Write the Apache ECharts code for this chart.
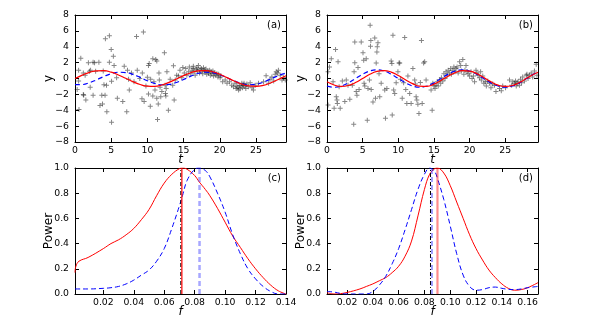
<!DOCTYPE html>
<html>
<head>
<meta charset="utf-8">
<script src="https://cdn.jsdelivr.net/npm/echarts@6/dist/echarts.min.js"></script>
<style>
  html, body { margin: 0; padding: 0; background: #fff; }
  #chart { width: 598px; height: 320px; }
</style>
</head>
<body>
<div id="chart"></div>
<script>
// ---- data ----

// (a) noisy samples and the two fitted sinusoids
const scatterA = [
  [0.3,-1.4],[0.5,-0.3],[0.5,1.05],[0.55,-3.9],[0.8,2.55],[1.15,0.7],[1.15,-2.0],[1.2,-2.1],[1.4,0.4],[1.5,-2.7],
  [1.85,2.0],[2.0,0.9],[2.1,-1.1],[2.15,1.05],[2.5,2.05],[2.5,-2.1],[2.7,2.0],[2.85,0.9],[3.3,2.05],[3.45,-3.4],
  [3.7,-2.1],[3.8,-3.2],[3.9,0.95],[4.0,-0.8],[4.15,-2.1],[4.2,5.0],[4.35,-0.85],[4.4,-4.2],[4.75,5.4],[4.75,2.05],
  [5.0,3.65],[5.05,-0.35],[5.05,-5.5],[5.3,2.8],[5.4,1.65],[5.75,0.1],[5.85,-2.5],[6.6,-2.9],[6.8,1.55],[7.15,-4.2],
  [7.25,1.05],[7.4,-0.1],[7.5,-1.45],[7.8,0.7],[8.15,-0.4],[8.5,5.3],[8.6,1.05],[8.95,0.0],[9.25,-2.55],[9.3,0.7],
  [9.45,5.85],[9.55,-2.9],[9.8,-0.95],[10.0,0.15],[10.15,1.65],[10.15,-1.95],[10.25,1.9],[10.4,-3.5],[10.45,-0.1],[10.75,2.5],
  [10.75,-2.2],[10.9,-0.4],[11.05,-1.45],[11.15,2.4],[11.3,2.2],[11.3,-2.5],[11.4,-5.15],[11.5,-3.2],[11.6,0.7],[11.65,-0.2],
  [11.75,-1.1],[11.85,-2.3],[12.0,-1.65],[12.35,3.25],[12.45,-0.85],[12.5,-1.9],[12.55,-2.2],[12.6,-1.25],[12.7,0.85],[12.9,-4.0],
  [13.15,-0.1],[13.5,-0.85],[13.6,1.6],[13.7,-2.7],[13.85,-0.2],[14.05,0.4],[14.3,0.3],[14.5,1.05],[14.75,0.1],[14.9,1.4],
  [15.1,0.7],[15.3,1.25],[15.45,0.4],[15.7,0.85],[15.8,1.45],[16.0,0.6],[16.15,1.05],[16.3,1.25],[16.35,1.55],[16.45,0.85],
  [16.6,0.4],[16.75,1.15],[16.85,1.35],[16.9,0.95],[17.05,1.65],[17.2,0.7],[17.3,1.15],[17.45,1.25],[17.55,0.95],[17.65,0.6],
  [17.75,1.35],[17.9,1.05],[18.0,0.85],[18.1,1.2],[18.2,0.55],[18.35,0.95],[18.45,0.7],[18.6,1.05],[18.7,0.4],[18.8,0.85],
  [18.9,0.6],[19.05,0.95],[19.15,0.3],[19.3,0.7],[19.45,0.4],[19.6,0.6],[19.75,0.2],[19.85,0.55],[20.05,0.1],[20.15,0.35],
  [20.4,-0.4],[20.75,-0.2],[21.0,-0.6],[21.35,-0.4],[21.65,-0.85],[21.9,-1.05],[22.1,-0.6],[22.25,-1.25],[22.35,-0.95],[22.5,-1.15],
  [22.6,-1.45],[22.75,-0.85],[22.8,-1.3],[22.95,-0.95],[23.05,-0.6],[23.15,-1.15],[23.3,-0.85],[23.35,-0.6],[23.5,-0.95],[23.6,-1.25],
  [23.75,-0.7],[23.95,-1.05],[24.2,-0.55],[24.45,-1.15],[24.65,-1.45],[24.9,-0.85],[25.35,-0.6],[26.05,-0.4],[26.4,0.35],[26.75,-0.6],
  [26.95,-0.1],[27.2,0.2],[27.45,-0.3],[27.65,0.55],[27.8,0.85],[28.0,0.7],[28.1,1.05],[28.35,0.4],[28.6,-0.2],[28.8,0.1],[29.05,-0.2]
];
const curveTA = [0,1,2,3,4,5,6,7,8,9,10,11,12,13,14,15,16,17,18,19,20,21,22,23,24,25,26,27,28,29,29.15];
const redA = [0,0.43,0.78,0.97,0.99,0.80,0.45,0.03,-0.40,-0.76,-0.96,-0.99,-0.82,-0.49,-0.07,0.36,0.73,0.95,1.0,0.85,0.53,0.11,-0.32,-0.70,-0.94,-0.99,-0.87,-0.56,-0.15,0.28,0.34];
const blueA = [-0.78,-0.76,-0.53,-0.16,0.26,0.60,0.79,0.75,0.52,0.14,-0.28,-0.62,-0.79,-0.74,-0.50,-0.12,0.30,0.63,0.79,0.74,0.48,0.10,-0.31,-0.64,-0.79,-0.73,-0.47,-0.08,0.33,0.66,0.70];

// (b)
const scatterB = [
  [0.15,0.85],[0.15,-3.35],[0.35,1.45],[0.6,2.5],[0.85,-0.4],[1.0,-3.75],[1.2,3.65],[1.3,-2.3],[1.4,-2.7],[1.45,-3.15],
  [1.55,2.1],[1.7,-1.05],[1.85,-3.75],[2.15,-0.3],[2.5,-2.9],[2.7,-0.2],[2.95,-0.85],[3.2,-2.6],[3.55,-0.85],[3.75,-5.75],
  [3.8,0.85],[3.9,4.6],[3.9,2.0],[4.1,-1.65],[4.2,-2.1],[4.35,1.4],[4.5,-1.4],[4.8,4.6],[5.05,3.25],[5.15,2.3],
  [5.2,-0.6],[5.3,-0.95],[5.5,2.5],[5.65,-5.25],[5.75,-1.25],[5.95,-0.2],[6.05,6.7],[6.1,4.05],[6.15,4.8],[6.2,-1.4],
  [6.45,-2.95],[6.7,5.1],[6.8,-2.5],[6.9,1.95],[7.0,3.35],[7.05,4.0],[7.15,4.5],[7.3,0.6],[7.4,-2.3],[7.6,-0.6],
  [8.1,-1.45],[8.2,-5.0],[8.4,-1.25],[9.0,2.2],[9.1,1.9],[9.15,-4.6],[9.25,5.45],[9.35,-1.45],[9.5,-1.9],[9.7,-0.55],
  [9.95,0.85],[10.1,1.95],[10.2,1.95],[10.3,-0.1],[10.55,-2.5],[10.75,-0.55],[10.9,5.15],[11.05,-1.4],[11.2,-3.15],[11.35,0.3],
  [11.6,-1.9],[11.8,-3.15],[12.05,1.25],[12.3,-0.2],[12.4,-0.7],[12.5,-2.3],[12.6,-2.7],[12.75,-3.25],[12.9,-4.4],[13.1,-0.5],
  [13.25,4.8],[13.35,-3.15],[13.55,1.95],[13.7,2.1],[13.9,-0.2],[14.6,-1.45],[14.75,-4.0],[14.85,-0.6],[15.0,-0.95],[15.15,-1.25],
  [15.3,-0.85],[15.45,-0.4],[15.6,-0.95],[15.8,-0.2],[15.95,-0.6],[16.05,0.1],[16.25,-0.3],[16.4,0.6],[16.55,0.0],[16.7,0.85],
  [16.85,0.4],[17.0,1.05],[17.2,0.7],[17.35,1.25],[17.45,0.55],[17.65,1.05],[17.8,1.45],[17.95,0.85],[18.1,1.25],[18.25,1.45],
  [18.4,0.7],[18.6,2.1],[18.75,1.65],[18.85,0.95],[19.05,2.4],[19.2,0.55],[19.35,1.05],[19.5,1.65],[19.65,0.85],[19.8,0.6],
  [20.0,0.3],[20.2,0.85],[20.35,0.0],[20.55,0.3],[20.7,-0.4],[20.9,1.05],[21.05,0.7],[21.2,0.4],[21.4,0.1],[21.55,0.85],
  [21.65,-0.2],[21.85,0.3],[22.0,-0.6],[22.2,-0.4],[22.35,-0.95],[22.55,-0.3],[22.8,-0.6],[23.0,-1.15],[23.25,-0.7],[23.5,-0.85],
  [23.7,-1.65],[24.2,-1.25],[24.45,-1.55],[24.65,-0.95],[25.05,-1.15],[25.6,-0.2],[25.9,-0.85],[26.05,-0.4],[26.3,-0.6],[26.45,-0.3],
  [26.55,-0.95],[26.65,-0.6],[26.8,-0.4],[27.0,-0.85],[27.15,-0.1],[27.3,-0.55],[27.45,0.2],[27.7,-0.3],[27.95,0.4],[28.05,0.55],
  [28.2,0.0],[28.4,0.4],[28.65,0.7],[28.85,0.2],[29.1,0.95],[29.35,1.8],[29.45,0.4]
];
const curveTB = [0,1,2,3,4,5,6,7,8,9,10,11,12,13,14,15,16,17,18,19,20,21,22,23,24,25,26,27,28,29,29.6];
const redB = [-0.41,-0.82,-1.0,-0.88,-0.51,0.01,0.53,0.89,1.0,0.81,0.38,-0.15,-0.64,-0.95,-0.98,-0.71,-0.25,0.29,0.74,0.98,0.93,0.62,0.12,-0.41,-0.83,-1.0,-0.88,-0.50,0.02,0.53,0.78];
const blueB = [-0.95,-1.10,-0.95,-0.55,0,0.55,0.95,1.10,0.95,0.55,0,-0.55,-0.95,-1.10,-0.95,-0.55,0,0.55,0.95,1.10,0.95,0.55,0,-0.55,-0.95,-1.10,-0.95,-0.55,0,0.55,0.82];

// (c) periodograms
const freqC = [0.0014,0.002,0.004,0.01,0.02,0.025,0.03,0.035,0.04,0.045,0.05,0.055,0.06,0.065,0.07,0.072,0.075,0.08,0.083,0.087,0.09,0.095,0.1,0.105,0.11,0.115,0.12,0.125,0.13,0.135,0.14];
const redC = [0.17,0.22,0.26,0.29,0.36,0.40,0.43,0.47,0.52,0.59,0.67,0.78,0.88,0.95,0.995,1.0,0.99,0.94,0.89,0.83,0.78,0.68,0.57,0.46,0.37,0.28,0.20,0.13,0.07,0.025,0.0];
const blueC = [0.04,0.04,0.04,0.04,0.045,0.05,0.06,0.08,0.11,0.15,0.19,0.26,0.36,0.52,0.70,0.78,0.90,0.99,1.0,0.98,0.93,0.80,0.65,0.47,0.32,0.20,0.12,0.06,0.02,0.0,0.0];
const peaksC = { black: 0.0709, red: 0.0716, blue: 0.0832 };

// (d)
const freqD = [0.0045,0.01,0.015,0.02,0.03,0.035,0.04,0.045,0.05,0.055,0.06,0.065,0.07,0.075,0.08,0.084,0.088,0.09,0.095,0.1,0.105,0.11,0.115,0.12,0.125,0.13,0.135,0.14,0.145,0.15,0.155,0.16,0.168];
const redD = [0.01,0.0,0.003,0.012,0.04,0.06,0.08,0.105,0.13,0.17,0.22,0.30,0.42,0.62,0.83,0.95,0.995,1.0,0.96,0.86,0.73,0.60,0.47,0.36,0.27,0.19,0.13,0.08,0.045,0.03,0.035,0.05,0.09];
const blueD = [0.02,0.015,0.005,0.0,0.0,0.0,0.02,0.07,0.14,0.24,0.36,0.51,0.67,0.83,0.95,1.0,0.97,0.92,0.75,0.54,0.32,0.15,0.06,0.03,0.035,0.05,0.055,0.045,0.037,0.035,0.04,0.05,0.06];
const peaksD = { black: 0.0847, red: 0.0901, blue: 0.0858 };

// tick labels
const tTicks = [0, 5, 10, 15, 20, 25];
const fTicksC = [0.02, 0.04, 0.06, 0.08, 0.10, 0.12, 0.14];
const fTicksD = [0.02, 0.04, 0.06, 0.08, 0.10, 0.12, 0.14, 0.16];
const panelLabels = ['(a)', '(b)', '(c)', '(d)'];

// ---- chart ----
const FONT = 'DejaVu Sans';
const zip = (xs, ys) => xs.map((x, i) => [x, ys[i]]);
const vline = (x) => [[x, 0], [x, 1]];
const minus = (v) => (v < 0 ? '\u2212' + (-v) : String(v));

const grids = [
  { left: 75, top: 15, width: 211, height: 127 },
  { left: 327, top: 15, width: 211, height: 127 },
  { left: 75, top: 168, width: 211, height: 126 },
  { left: 327, top: 168, width: 211, height: 126 },
];
const xRange = [[0, 29.15], [0, 29.6], [0.0014, 0.14], [0.0045, 0.168]];
const xTicks = [tTicks, tTicks, fTicksC, fTicksD];

const frameLine = { show: true, onZero: false, lineStyle: { color: '#000', width: 1 } };
const tickStyle = { show: true, inside: true, length: 4, lineStyle: { color: '#000', width: 1 } };
const labelStyle = { fontFamily: FONT, fontSize: 9.3, color: '#000' };

const xAxis = [];
const yAxis = [];
for (let i = 0; i < 4; i++) {
  const top = i < 2;
  xAxis.push({
    type: 'value', gridIndex: i, position: 'bottom',
    min: xRange[i][0], max: xRange[i][1],
    axisLine: frameLine, splitLine: { show: false },
    axisTick: { ...tickStyle, customValues: xTicks[i] },
    axisLabel: {
      ...labelStyle, margin: 4, customValues: xTicks[i],
      formatter: (v) => (top ? String(v) : v.toFixed(2)),
    },
    name: top ? 't' : 'f', nameLocation: 'middle', nameGap: 12, nameMoveOverlap: false,
    nameTextStyle: { fontFamily: FONT, fontSize: 12, fontStyle: 'italic', color: '#000' },
  });
  yAxis.push({
    type: 'value', gridIndex: i, position: 'left',
    min: top ? -8 : 0, max: top ? 8 : 1, interval: top ? 2 : 0.2,
    axisLine: frameLine, splitLine: { show: false },
    axisTick: tickStyle,
    axisLabel: {
      ...labelStyle, margin: 6,
      formatter: (v) => (top ? minus(v) : v.toFixed(1)),
    },
    name: top ? 'y' : 'Power', nameLocation: 'middle', nameGap: 20, nameMoveOverlap: false,
    nameTextStyle: { fontFamily: FONT, fontSize: 12, color: '#000' },
  });
}
// mirrored frame: ticks on the top and right edges too
for (let i = 0; i < 4; i++) {
  const top = i < 2;
  xAxis.push({
    type: 'value', gridIndex: i, position: 'top',
    min: xRange[i][0], max: xRange[i][1],
    axisLine: frameLine, splitLine: { show: false },
    axisTick: { ...tickStyle, customValues: xTicks[i] },
    axisLabel: { show: false },
  });
  yAxis.push({
    type: 'value', gridIndex: i, position: 'right',
    min: top ? -8 : 0, max: top ? 8 : 1, interval: top ? 2 : 0.2,
    axisLine: frameLine, splitLine: { show: false },
    axisTick: tickStyle, axisLabel: { show: false },
  });
}

const plus = 'path://M4,0h2v4h4v2h-4v4h-2v-4h-4v-2h4z';
const scatter = (i, data) => ({
  type: 'scatter', xAxisIndex: i, yAxisIndex: i, data,
  symbol: plus, symbolSize: 5, silent: true,
  itemStyle: { color: 'rgba(0,0,0,0.6)' },
});
const curve = (i, data, color, type, width, smooth) => ({
  type: 'line', xAxisIndex: i, yAxisIndex: i, data,
  showSymbol: false, smooth: smooth, silent: true, clip: true,
  lineStyle: { color, type, width },
});

const series = [
  scatter(0, scatterA),
  curve(0, zip(curveTA, blueA), '#0000ff', [5, 3], 1.2, true),
  curve(0, zip(curveTA, redA), '#ff0000', 'solid', 1.2, true),
  scatter(1, scatterB),
  curve(1, zip(curveTB, blueB), '#0000ff', [5, 3], 1.2, true),
  curve(1, zip(curveTB, redB), '#ff0000', 'solid', 1.2, true),

  curve(2, zip(freqC, redC), '#ff0000', 'solid', 1, 0.4),
  curve(2, zip(freqC, blueC), '#0000ff', [5, 3], 1, 0.4),
  curve(2, vline(peaksC.black), '#000', [4, 2, 1, 2], 1, false),
  curve(2, vline(peaksC.red), '#ff0000', 'solid', 1.2, false),
  curve(2, vline(peaksC.blue), 'rgba(60,60,255,0.45)', [5, 3], 2.5, false),

  curve(3, zip(freqD, redD), '#ff0000', 'solid', 1, 0.4),
  curve(3, zip(freqD, blueD), '#0000ff', [5, 3], 1, 0.4),
  curve(3, vline(peaksD.black), '#000', [4, 2, 1, 2], 1, false),
  curve(3, vline(peaksD.blue), 'rgba(60,60,255,0.5)', [5, 3], 2, false),
  curve(3, vline(peaksD.red), 'rgba(255,0,0,0.45)', 'solid', 2.2, false),
];

const graphic = panelLabels.map((txt, i) => ({
  type: 'text',
  x: grids[i].left + grids[i].width - 5,
  y: grids[i].top + 10,
  style: { text: txt, fontFamily: FONT, fontSize: 10, fill: '#000', align: 'right', verticalAlign: 'middle' },
}));

const chart = echarts.init(document.getElementById('chart'), null, { renderer: 'canvas' });
chart.setOption({
  animation: false,
  backgroundColor: '#fff',
  grid: grids,
  xAxis, yAxis, series, graphic,
});
</script>
</body>
</html>
